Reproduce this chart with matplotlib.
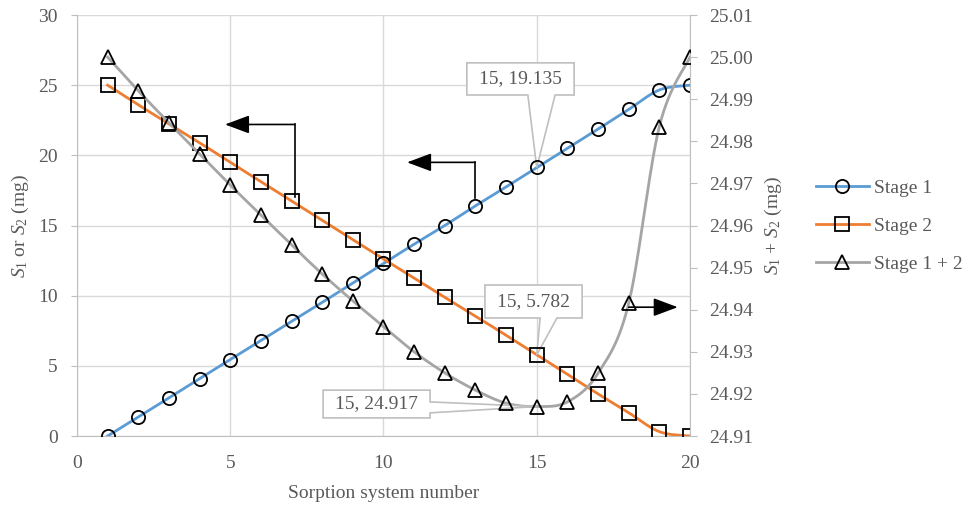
import numpy as np
import matplotlib
matplotlib.use('Agg')
import matplotlib.pyplot as plt
from matplotlib.patches import Polygon
from matplotlib.lines import Line2D

plt.rcParams['font.family'] = ['Liberation Serif', 'DejaVu Serif']
plt.rcParams['mathtext.fontset'] = 'custom'
plt.rcParams['mathtext.rm'] = 'Liberation Serif'
plt.rcParams['mathtext.it'] = 'Liberation Serif:italic'

# data
systems = np.arange(1, 21)
stage1 = [0.0, 1.35, 2.72, 4.08, 5.45, 6.80, 8.17, 9.52, 10.9, 12.3,
          13.67, 15.0, 16.4, 17.75, 19.135, 20.5, 21.87, 23.27, 24.66, 25.0]
stage2 = [25.0, 23.6, 22.24, 20.9, 19.5, 18.13, 16.75, 15.37, 13.98, 12.62,
          11.25, 9.88, 8.54, 7.18, 5.782, 4.40, 3.0, 1.66, 0.31, 0.0]
stage12 = [25.0, 24.992, 24.9844, 24.977, 24.9696, 24.9625, 24.9554, 24.9485,
           24.9421, 24.936, 24.930, 24.925, 24.9209, 24.9178, 24.917,
           24.9181, 24.9249, 24.9415, 24.9835, 25.0]

grey_txt = '#595959'
c1, c2, c3 = '#5B9BD5', '#ED7D31', '#A5A5A5'
fs = 14


def smooth(xs, ys, n=30):
    # Excel style smoothed line (Bezier with Catmull-Rom control points)
    p = np.column_stack([xs, ys]).astype(float)
    p = np.vstack([p[0], p, p[-1]])
    t = np.linspace(0, 1, n)[:, None]
    segs = []
    for i in range(1, len(p) - 2):
        p0, p1, p2, p3 = p[i - 1], p[i], p[i + 1], p[i + 2]
        k1 = p1 + (p2 - p0) / 6
        k2 = p2 - (p3 - p1) / 6
        segs.append((1 - t) ** 3 * p1 + 3 * (1 - t) ** 2 * t * k1
                    + 3 * (1 - t) * t ** 2 * k2 + t ** 3 * p2)
    out = np.vstack(segs)
    return out[:, 0], out[:, 1]


def callout(axis, box, base, tip, text):
    (x0, x1, y0, y1) = box
    if base[0] == 'bottom':
        pts = [(x0, y0), (x1, y0), (x1, y1), (base[2], y1), tip, (base[1], y1), (x0, y1)]
    else:
        pts = [(x0, y0), (x1, y0), (x1, base[1]), tip, (x1, base[2]), (x1, y1), (x0, y1)]
    axis.add_patch(Polygon(pts, closed=True, fc='white', ec='#BFBFBF', lw=1.2, zorder=4))
    axis.text((x0 + x1) / 2, (y0 + y1) / 2, text, ha='center', va='center',
              fontsize=fs, color=grey_txt, zorder=5)


fig = plt.figure(figsize=(9.68, 5.07), dpi=100)
ax = fig.add_axes([0.0795, 0.140, 0.6333, 0.8304])
ax2 = ax.twinx()

mk = dict(markersize=9.5, mfc='none', mec='black', mew=1.3, ls='none')
sx, sy = smooth(systems, stage1)
ax.plot(sx, sy, color=c1, lw=2, zorder=2)
ax.plot(systems, stage1, marker='o', zorder=6, **mk)
sx, sy = smooth(systems, stage2)
ax.plot(sx, sy, color=c2, lw=2, zorder=2)
ax.plot(systems, stage2, marker='s', zorder=6, **mk)
sx, sy = smooth(systems, stage12)
ax2.plot(sx, sy, color=c3, lw=2, zorder=2)
ax2.plot(systems, stage12, marker='^', zorder=6, **mk)

ax.set_xlim(0, 20)
ax.set_ylim(0, 30)
ax.set_xticks(np.arange(0, 21, 5))
ax.set_yticks(np.arange(0, 31, 5))
ax2.set_ylim(24.91, 25.01)
ax2.set_yticks(np.round(np.arange(24.91, 25.0101, 0.01), 2))
ax2.set_yticklabels(['%.2f' % v for v in np.arange(24.91, 25.0101, 0.01)])

ax.set_axisbelow(True)
ax.grid(True, color='#D9D9D9', lw=1)
for s in ['top', 'right']:
    ax.spines[s].set_visible(False)
for s in ['top', 'left', 'bottom']:
    ax2.spines[s].set_visible(False)
for s in ['left', 'bottom']:
    ax.spines[s].set_color('#BFBFBF')
ax2.spines['right'].set_color('#BFBFBF')
ax.tick_params(axis='y', length=4, color='#BFBFBF', labelsize=fs, labelcolor=grey_txt, pad=10)
ax.tick_params(axis='x', length=0, labelsize=fs, labelcolor=grey_txt, pad=14)
ax2.tick_params(axis='y', length=5, color='#BFBFBF', labelsize=fs, labelcolor=grey_txt, pad=9)

ax.set_xlabel('Sorption system number', fontsize=fs, color=grey_txt, labelpad=9)
ax.set_ylabel(r'$\mathit{S}_1$ or $\mathit{S}_2$ (mg)', fontsize=fs, color=grey_txt, labelpad=5)
ax2.set_ylabel(r'$\mathit{S}_1$ + $\mathit{S}_2$ (mg)', fontsize=fs, color=grey_txt, labelpad=7)

# direction arrows
ap = dict(arrowstyle='-|>,head_length=0.75,head_width=0.28', color='black', lw=1.2,
          shrinkA=0, shrinkB=0, mutation_scale=20)
ax.annotate('', xy=(4.83, 22.2), xytext=(7.11, 22.2), arrowprops=ap, zorder=3)
ax.plot([7.11, 7.11], [22.2, 17.03], color='black', lw=1.2, zorder=3)
ax.annotate('', xy=(10.77, 19.5), xytext=(12.99, 19.5), arrowprops=ap, zorder=3)
ax.plot([12.99, 12.99], [19.5, 16.96], color='black', lw=1.2, zorder=3)
ax2.annotate('', xy=(19.6, 24.9406), xytext=(18.0, 24.9406), arrowprops=ap, zorder=3)

# data callouts
callout(ax, (12.72, 16.22, 26.59, 24.30), ('bottom', 14.71, 15.6), (15, 19.135), '15, 19.135')
callout(ax, (13.31, 16.48, 10.76, 8.41), ('bottom', 15.11, 15.66), (15, 5.782), '15, 5.782')
callout(ax2, (8.03, 11.52, 24.9209, 24.9143), ('right', 24.9181, 24.9155), (15, 24.917), '15, 24.917')

handles = [
    Line2D([], [], color=c1, lw=2, marker='o', mfc='none', mec='black', mew=1.3, markersize=9.5),
    Line2D([], [], color=c2, lw=2, marker='s', mfc='none', mec='black', mew=1.3, markersize=9.5),
    Line2D([], [], color=c3, lw=2, marker='^', mfc='none', mec='black', mew=1.3, markersize=9.5),
]
fig.legend(handles, ['Stage 1', 'Stage 2', 'Stage 1 + 2'], loc='center left',
           bbox_to_anchor=(0.843, 0.554), frameon=False, fontsize=fs,
           handlelength=2.7, handletextpad=0.3, labelspacing=1.05,
           borderpad=0, borderaxespad=0, labelcolor=grey_txt)

fig.savefig('out.png', dpi=100)
